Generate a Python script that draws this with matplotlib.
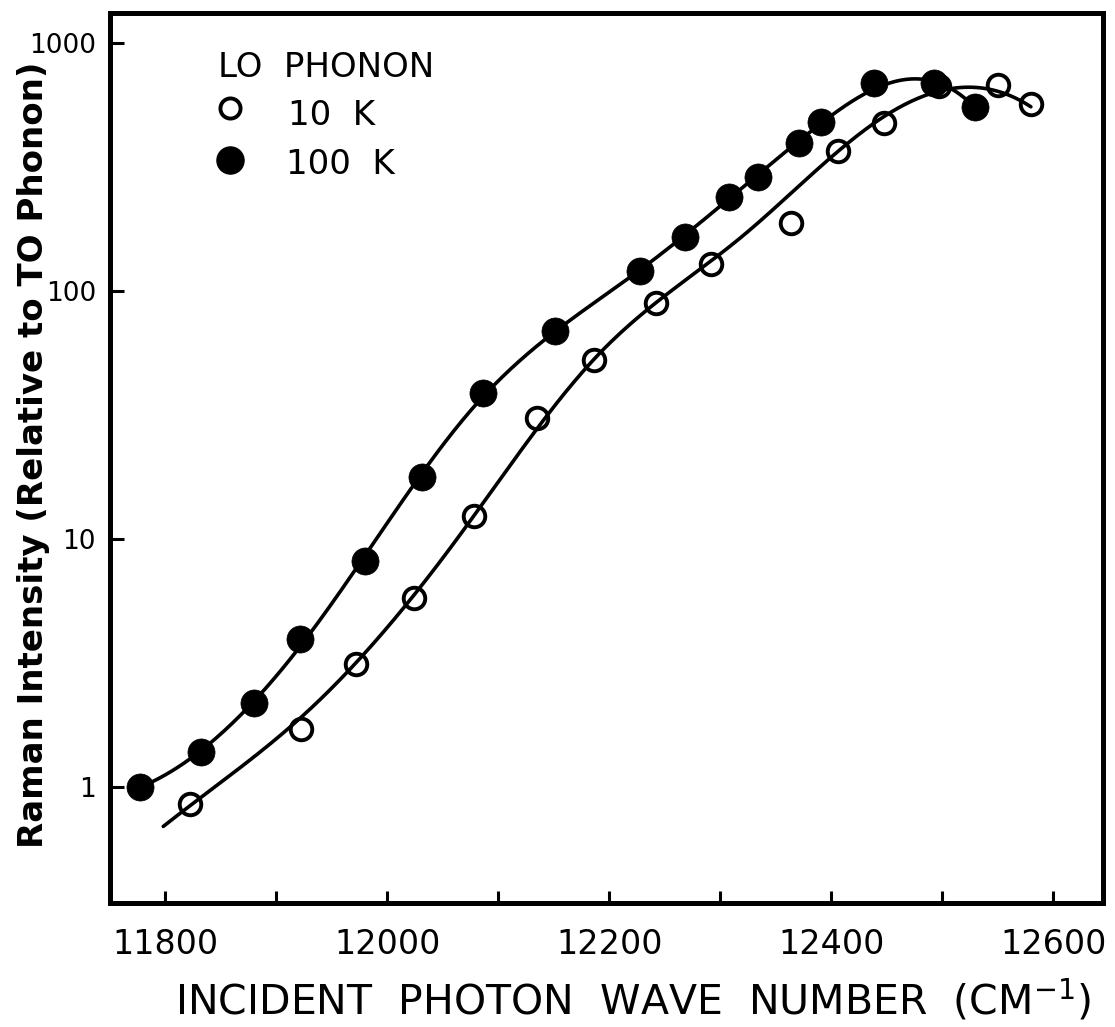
import numpy as np
import matplotlib
matplotlib.use("Agg")
import matplotlib.pyplot as plt
from matplotlib.ticker import FixedLocator, NullLocator, FixedFormatter

# LO phonon Raman intensity (relative to TO phonon), 10 K -- open circles
wn_10k = [11822, 11922, 11972, 12024, 12078, 12135, 12186, 12242, 12292,
          12364, 12406, 12448, 12497, 12550, 12580]
int_10k = [0.85, 1.71, 3.13, 5.78, 12.4, 30.7, 52.7, 89.5, 128,
           188, 367, 476, 671, 677, 568]

# 100 K -- filled circles
wn_100k = [11777, 11832, 11880, 11921, 11980, 12031, 12086, 12151, 12228,
           12268, 12308, 12334, 12371, 12391, 12439, 12493, 12530]
int_100k = [1.0, 1.38, 2.18, 3.95, 8.15, 17.8, 38.8, 69, 120,
            165, 239, 288, 395, 480, 690, 690, 552]

# guide curves drawn through each data set
curve_10k_x = [11798, 11822, 11864, 11906, 11973, 12024, 12078, 12135, 12186,
               12242, 12291, 12350, 12406, 12447, 12493, 12541, 12559, 12580]
curve_10k_y = [0.70, 0.82, 1.17, 1.67, 3.25, 5.68, 12.3, 30.2, 50.3,
               89.5, 128, 225, 370, 490, 629, 653, 629, 547]
curve_100k_x = [11777, 11832, 11880, 11921, 11980, 12031, 12086, 12151, 12228,
                12268, 12308, 12371, 12439, 12467, 12493, 12530]
curve_100k_y = [1.0, 1.38, 2.18, 3.95, 8.15, 17.8, 38.8, 69, 121,
                165, 239, 395, 677, 710, 677, 552]

x_ticks = [11800, 12000, 12200, 12400, 12600]
x_minor = [11900, 12100, 12300, 12500]
y_ticks = [1, 10, 100, 1000]
y_labels = ["1", "10", "100", "1000"]


def smooth(xs, ys, n_knots=5, n=400):
    """Least-squares cubic regression spline through the guide nodes,
    fitted in log-intensity so the drawn line stays smooth."""
    xs = np.asarray(xs, float)
    lo, hi = xs.min(), xs.max()
    u = (xs - lo) / (hi - lo)
    knots = np.linspace(0, 1, n_knots + 2)[1:-1]

    def basis(t):
        cols = [np.ones_like(t), t, t ** 2, t ** 3]
        cols += [np.clip(t - k, 0, None) ** 3 for k in knots]
        return np.column_stack(cols)

    coef, *_ = np.linalg.lstsq(basis(u), np.log10(ys), rcond=None)
    uu = np.linspace(0, 1, n)
    return lo + uu * (hi - lo), 10 ** (basis(uu) @ coef)


W, H = 1115, 1027
fig = plt.figure(figsize=(W / 100, H / 100), dpi=100)
ax = fig.add_axes([110 / W, 1 - 903 / H, 993 / W, 890 / H])
ax.set_yscale("log")
ax.set_xlim(11750, 12645)
ax.set_ylim(0.34, 1320)

lw_curve = 2.6
cx, cy = smooth(curve_10k_x, curve_10k_y)
ax.plot(cx, cy, color="black", lw=lw_curve, zorder=2,
        solid_capstyle="round")
cx, cy = smooth(curve_100k_x, curve_100k_y, n_knots=4)
ax.plot(cx, cy, color="black", lw=lw_curve, zorder=2,
        solid_capstyle="round")

ax.plot(wn_100k, int_100k, "o", ms=19.5, mfc="black", mec="black", mew=0.5,
        ls="none", zorder=3)
ax.plot(wn_10k, int_10k, "o", ms=15.5, mfc="none", mec="black", mew=2.8,
        ls="none", zorder=4)

for s in ax.spines.values():
    s.set_linewidth(3.6)

ax.xaxis.set_major_locator(FixedLocator(x_ticks))
ax.xaxis.set_minor_locator(FixedLocator(x_minor))
ax.set_xticklabels([str(v) for v in x_ticks])
ax.yaxis.set_major_locator(FixedLocator(y_ticks))
ax.yaxis.set_major_formatter(FixedFormatter(y_labels))
ax.yaxis.set_minor_locator(NullLocator())

ax.tick_params(axis="both", which="both", direction="in", width=2.2,
               color="black")
ax.tick_params(axis="x", which="both", length=9, pad=18, labelsize=24)
ax.tick_params(axis="y", which="major", length=10, pad=10, labelsize=19)

# axis titles
fig.text(633 / W, 1 - 1001 / H, "INCIDENT  PHOTON  WAVE  NUMBER  (CM$^{-1}$)",
         ha="center", va="center", fontsize=29.5)
fig.text(34 / W, 1 - 455 / H, "Raman Intensity (Relative to TO Phonon)",
         ha="center", va="center", rotation=90, fontsize=24.5,
         fontweight="bold")

# legend block
def fx(px):
    return (px - 110) / 993


def fy(py):
    return (903 - py) / 890


ax.text(fx(218), fy(67), "LO  PHONON", ha="left", va="center", fontsize=24.5,
        transform=ax.transAxes)
ax.plot([fx(230)], [fy(108)], "o", ms=14.5, mfc="none", mec="black", mew=2.8,
        transform=ax.transAxes, clip_on=False)
ax.text(fx(288), fy(115), "10  K", ha="left", va="center", fontsize=24.5,
        transform=ax.transAxes)
ax.plot([fx(230)], [fy(160)], "o", ms=19.5, mfc="black", mec="black",
        transform=ax.transAxes, clip_on=False)
ax.text(fx(286), fy(165), "100  K", ha="left", va="center", fontsize=24.5,
        transform=ax.transAxes)

fig.savefig("out.png", dpi=100)
